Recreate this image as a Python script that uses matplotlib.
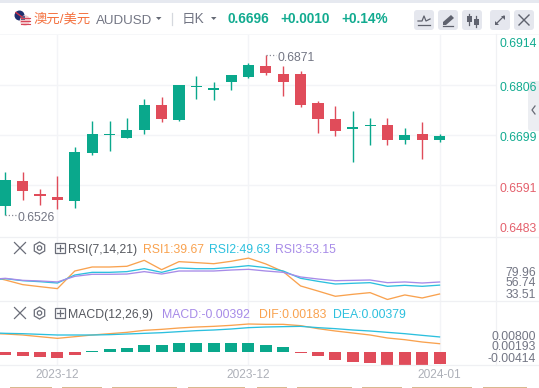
import matplotlib
matplotlib.use("Agg")
import matplotlib.pyplot as plt
from matplotlib.patches import FancyBboxPatch, Rectangle, Circle, Polygon, RegularPolygon

plt.rcParams['font.family'] = ['Liberation Sans', 'Noto Sans CJK SC', 'DejaVu Sans']

# ---------- data ----------
opens  = [.6545,.6599,.6571,.6564,.6555,.6659,.6698,.6691,.6709,.6763,.6730,.6802,.6795,
          .6812,.6823,.6847,.6830,.6830,.6767,.6733,.6711,.6717,.6720,.6687,.6700,.6687]
highs  = [.6618,.6618,.6581,.6609,.6672,.6728,.6728,.6735,.6776,.6780,.6806,.6825,.6812,
          .6828,.6854,.6871,.6847,.6836,.6771,.6761,.6750,.6735,.6735,.6713,.6726,.6700]
lows   = [.6526,.6558,.6547,.6538,.6540,.6655,.6663,.6691,.6700,.6726,.6728,.6776,.6774,
          .6795,.6821,.6828,.6782,.6758,.6702,.6696,.6640,.6676,.6676,.6679,.6646,.6683]
closes = [.6601,.6577,.6566,.6558,.6661,.6700,.6700,.6709,.6763,.6733,.6806,.6804,.6800,
          .6828,.6849,.6832,.6812,.6763,.6733,.6707,.6715,.6720,.6687,.6698,.6687,.6696]

# first value of each line belongs to the bar just left of the visible window
rsi1 = [60.0,55.4,50.2,47.9,45.7,65.5,70.0,70.0,70.8,77.5,67.0,76.0,74.9,73.7,76.4,79.96,
        73.4,64.8,48.7,43.0,37.1,39.3,41.2,33.51,38.6,35.2,39.67]
rsi2 = [55.0,56.9,54.6,53.5,52.0,61.0,64.0,64.0,64.8,68.1,64.0,68.9,68.1,68.1,69.6,71.5,
        69.3,65.5,57.3,53.9,50.9,51.7,52.4,48.3,49.4,48.3,49.63]
rsi3 = [55.8,57.3,55.0,54.3,53.2,59.5,61.8,61.8,62.1,64.8,62.1,65.5,65.5,65.5,66.6,67.4,
        65.5,64.0,58.8,56.5,54.6,55.0,55.4,52.4,53.2,52.0,53.15]

dif = [.00483,.00464,.00435,.00386,.00338,.00386,.00435,.00473,.00512,.00570,.00599,.00638,.00667,
       .00686,.00715,.00754,.00744,.00744,.00706,.00619,.00551,.00493,.00435,.00348,.00299,.00232,.00183]
dea = [.00502,.00483,.00473,.00454,.00435,.00435,.00435,.00445,.00464,.00483,.00502,.00532,.00561,
       .00580,.00609,.00648,.00667,.00677,.00686,.00648,.00619,.00580,.00551,.00512,.00473,.00425,.00379]
macd = [-.00098,-.00121,-.00164,-.00196,-.00088,.00023,.00098,.00131,.00229,.00229,.00294,.00294,.00294,
        .00294,.00294,.00229,.00164,-.00033,-.00131,-.00262,-.00337,-.00360,-.00425,-.00425,-.00425,-.00392]

price_ticks = [0.6806, 0.6699, 0.6591]
price_edge_labels = ["0.6914", "0.6483"]
date_ticks = [3, 14, 25]
date_labels = ["2023-12", "2023-12", "2024-01"]
rsi_labels = ["79.96", "56.74", "33.51"]
macd_labels = ["0.00800", "0.00193", "-0.00414"]

# ---------- styles ----------
W, H = 539, 388
GREEN, RED = "#0aa88c", "#e04c5a"
LBL_GREEN, LBL_RED = "#12ab90", "#e4606c"
ORANGE, CYAN, PURPLE = "#f9a24f", "#2cc0de", "#a78be8"
GRID, GRAY, DARK = "#f3f4f7", "#737684", "#55585f"
PLOT_R = 495.7
X0, DX = 5.3, 17.37

fig = plt.figure(figsize=(W / 100, H / 100), dpi=100, facecolor="white")

def pane(top, bottom):
    a = fig.add_axes([0, 1 - bottom / H, PLOT_R / W, (bottom - top) / H], facecolor="none")
    a.set_xlim(-X0 / DX, (PLOT_R - X0) / DX)
    a.set_xticks(date_ticks)
    a.set_xticklabels([])
    a.tick_params(length=0, labelleft=False)
    a.grid(True, axis="x", color=GRID, lw=1.0, zorder=0)
    for s in a.spines.values():
        s.set_visible(False)
    return a

# ---------- candles ----------
ax = pane(34, 237)
ax.set_ylim(0.64777, 0.69162)
ax.set_yticks(price_ticks)
ax.grid(True, axis="y", color=GRID, lw=1.0, zorder=0)
for i, (o, h, l, c) in enumerate(zip(opens, highs, lows, closes)):
    col = GREEN if c >= o else RED
    ax.vlines(i, l, h, color=col, lw=1.0, zorder=2)
    ax.bar(i, abs(c - o), bottom=min(o, c), width=0.64, color=col, lw=0, zorder=3)

i_hi = highs.index(max(highs))
i_lo = lows.index(min(lows))
ax.plot([i_hi, i_hi + 0.6], [highs[i_hi]] * 2, color="#8a8d98", lw=0.9, ls=(0, (1, 1.6)), zorder=3)
ax.plot([i_lo, i_lo + 0.6], [lows[i_lo]] * 2, color="#8a8d98", lw=0.9, ls=(0, (1, 1.6)), zorder=3)
ax.text(i_hi + 0.68, highs[i_hi] - 0.0003, f"{highs[i_hi]:.4f}", color=GRAY, fontsize=8.8, va="center_baseline", ha="left")
ax.text(i_lo + 0.68, lows[i_lo] - 0.0003, f"{lows[i_lo]:.4f}", color=GRAY, fontsize=8.8, va="center_baseline", ha="left")

# ---------- RSI ----------
xs_line = list(range(-1, len(opens)))
ax_r = pane(237, 301)
ax_r.set_ylim(31.8, 103.7)
ax_r.plot(xs_line, rsi1, color=ORANGE, lw=0.95, zorder=3)
ax_r.plot(xs_line, rsi2, color=CYAN, lw=0.95, zorder=3)
ax_r.plot(xs_line, rsi3, color=PURPLE, lw=0.95, zorder=3)

# ---------- MACD ----------
ax_m = pane(301, 365)
ax_m.set_ylim(-.00425, .01668)
ax_m.bar(range(len(macd)), macd, width=0.69, color=[GREEN if v >= 0 else RED for v in macd], lw=0, zorder=2)
ax_l = ax_m.twinx()
ax_l.set_ylim(-.00435, .01421)
ax_l.set_yticks([])
for s in ax_l.spines.values():
    s.set_visible(False)
ax_l.plot(xs_line, dif, color=ORANGE, lw=0.95, zorder=3)
ax_l.plot(xs_line, dea, color=CYAN, lw=0.95, zorder=3)

# ---------- chrome overlay in pixel coordinates ----------
ov = fig.add_axes([0, 0, 1, 1], facecolor="none")
ov.set_xlim(0, W)
ov.set_ylim(H, 0)
ov.axis("off")

ov.add_patch(Rectangle((0, 0), W, 3, color="#e6e9f0", lw=0))
ov.add_patch(Rectangle((0, 34), W, 1, color="#f6f7f9", lw=0))
for y in (237, 301, 365):
    ov.plot([0, W], [y, y], color="#eff0f3", lw=0.9)
ov.plot([PLOT_R, PLOT_R], [34, 365], color="#f0f1f4", lw=0.9)
ov.add_patch(FancyBboxPatch((528, 81), 20, 50, boxstyle="round,pad=0,rounding_size=3", color="#eceef2", lw=0))
ov.plot([535, 532, 535], [106, 110, 114], color="#666a75", lw=0.9)

# flag
ov.add_patch(Circle((19.5, 15.5), 5, color="#1f2f6e", lw=0))
ov.plot([16, 22], [12.5, 17], color="#d4344a", lw=1)
ov.add_patch(Circle((25, 20.5), 5.2, color="#f3c9cc", lw=0))
for y in (17.5, 20.5, 23.5):
    ov.plot([20.5, 29.5], [y, y], color="#d8475a", lw=0.8)
ov.add_patch(Rectangle((20.5, 16), 4, 4, color="#5a5f86", lw=0))

t = dict(va="center_baseline")
ov.text(34, 17.5, "澳元/美元", color="#f4713f", fontsize=9.6, **t)
ov.text(96, 19, "AUDUSD", color=GRAY, fontsize=9.6, **t)
ov.add_patch(Polygon([(156, 17), (161.5, 17), (158.7, 20)], color="#666a75", lw=0))
ov.plot([172, 172], [13, 25], color="#d5d8de", lw=0.9)
ov.text(182, 17.5, "日K", color=GRAY, fontsize=9.8, **t)
ov.add_patch(Polygon([(211, 17), (216.5, 17), (213.7, 20)], color="#666a75", lw=0))
ov.text(227, 17.5, "0.6696", color=LBL_GREEN, fontsize=9.8, fontweight="bold", **t)
ov.text(280, 17.5, "+0.0010", color=LBL_GREEN, fontsize=9.8, fontweight="bold", **t)
ov.text(341.5, 17.5, "+0.14%", color=LBL_GREEN, fontsize=9.8, fontweight="bold", **t)

# toolbar buttons
for x in (414, 438, 462, 490, 514):
    ov.add_patch(FancyBboxPatch((x, 10), 20, 20, boxstyle="round,pad=0,rounding_size=3", color="#e5e7ee", lw=0))
ic = "#5f626e"
ov.plot([418, 422, 424, 426, 430], [21, 21, 16, 21, 19], color=ic, lw=0.9)
ov.plot([418, 430], [25, 25], color=ic, lw=0.9)
ov.add_patch(Polygon([(443, 22), (451, 15), (454, 18), (446, 25), (443, 25)], color=ic, lw=0))
ov.plot([443, 453], [26, 26], color=ic, lw=0.9)
ov.plot([469, 469], [14, 25], color=ic, lw=0.9)
ov.plot([476, 476], [16, 27], color=ic, lw=0.9)
ov.add_patch(Rectangle((467, 16), 4.5, 6, color=ic, lw=0))
ov.add_patch(Rectangle((474, 18.5), 4.5, 6, color=ic, lw=0))
ov.plot([496, 504], [24, 16], color=ic, lw=0.9)
ov.add_patch(Polygon([(501, 15.5), (505, 15.5), (505, 19.5)], color=ic, lw=0))
ov.add_patch(Polygon([(495, 20.5), (495, 24.5), (499, 24.5)], color=ic, lw=0))
ov.plot([519, 529], [15, 25], color=ic, lw=1)
ov.plot([519, 529], [25, 15], color=ic, lw=1)

# price labels
for y, s, c in [(42.5, price_edge_labels[0], LBL_GREEN), (86.5, f"{price_ticks[0]:.4f}", LBL_GREEN),
                (136.5, f"{price_ticks[1]:.4f}", LBL_GREEN), (187, f"{price_ticks[2]:.4f}", LBL_RED),
                (227.5, price_edge_labels[1], LBL_RED)]:
    ov.text(499, y, s, color=c, fontsize=8.8, **t)

# indicator rows
def row_icons(y):
    ov.plot([14.5, 25.5], [y - 5.5, y + 5.5], color="#6a6d78", lw=0.9)
    ov.plot([14.5, 25.5], [y + 5.5, y - 5.5], color="#6a6d78", lw=0.9)
    ov.add_patch(RegularPolygon((39.5, y), 6, radius=6, fill=False, ec="#6a6d78", lw=0.9))
    ov.add_patch(Circle((39.5, y), 2.2, fill=False, ec="#6a6d78", lw=0.9))
    ov.add_patch(Rectangle((54.5, y - 5), 10, 10, fill=False, ec="#6a6d78", lw=0.9))
    ov.plot([56.5, 62.5], [y, y], color="#6a6d78", lw=0.9)
    ov.plot([59.5, 59.5], [y - 3, y + 3], color="#6a6d78", lw=0.9)

row_icons(248)
row_icons(313)
ov.text(68, 248.5, "RSI(7,14,21)", color=DARK, fontsize=8.8, **t)
ov.text(143, 248.5, "RSI1:39.67", color=ORANGE, fontsize=8.8, **t)
ov.text(209, 248.5, "RSI2:49.63", color=CYAN, fontsize=8.8, **t)
ov.text(275, 248.5, "RSI3:53.15", color=PURPLE, fontsize=8.8, **t)
ov.text(68, 313.5, "MACD(12,26,9)", color=DARK, fontsize=8.8, **t)
ov.text(162, 313.5, "MACD:-0.00392", color=PURPLE, fontsize=8.8, **t)
ov.text(259, 313.5, "DIF:0.00183", color=ORANGE, fontsize=8.8, **t)
ov.text(333, 313.5, "DEA:0.00379", color=CYAN, fontsize=8.8, **t)

for y, s in zip((271, 282, 294), rsi_labels):
    ov.text(536, y, s, color=GRAY, fontsize=8.8, ha="right", **t)
for y, s in zip((335.5, 346, 357), macd_labels):
    ov.text(536, y, s, color=GRAY, fontsize=8.8, ha="right", **t)

for d, s in zip(date_ticks, date_labels):
    ov.text(X0 + DX * d, 374, s, color="#adb0b8", fontsize=8.6, ha="center", **t)

# clipped footer strip
for a, b in [(10, 52), (62, 102), (112, 177), (188, 245), (257, 287), (297, 352), (362, 402), (412, 472), (483, 527)]:
    ov.add_patch(Rectangle((a, 387), b - a, 1, color="#d9b88e", lw=0))

fig.savefig("out.png", dpi=100)
